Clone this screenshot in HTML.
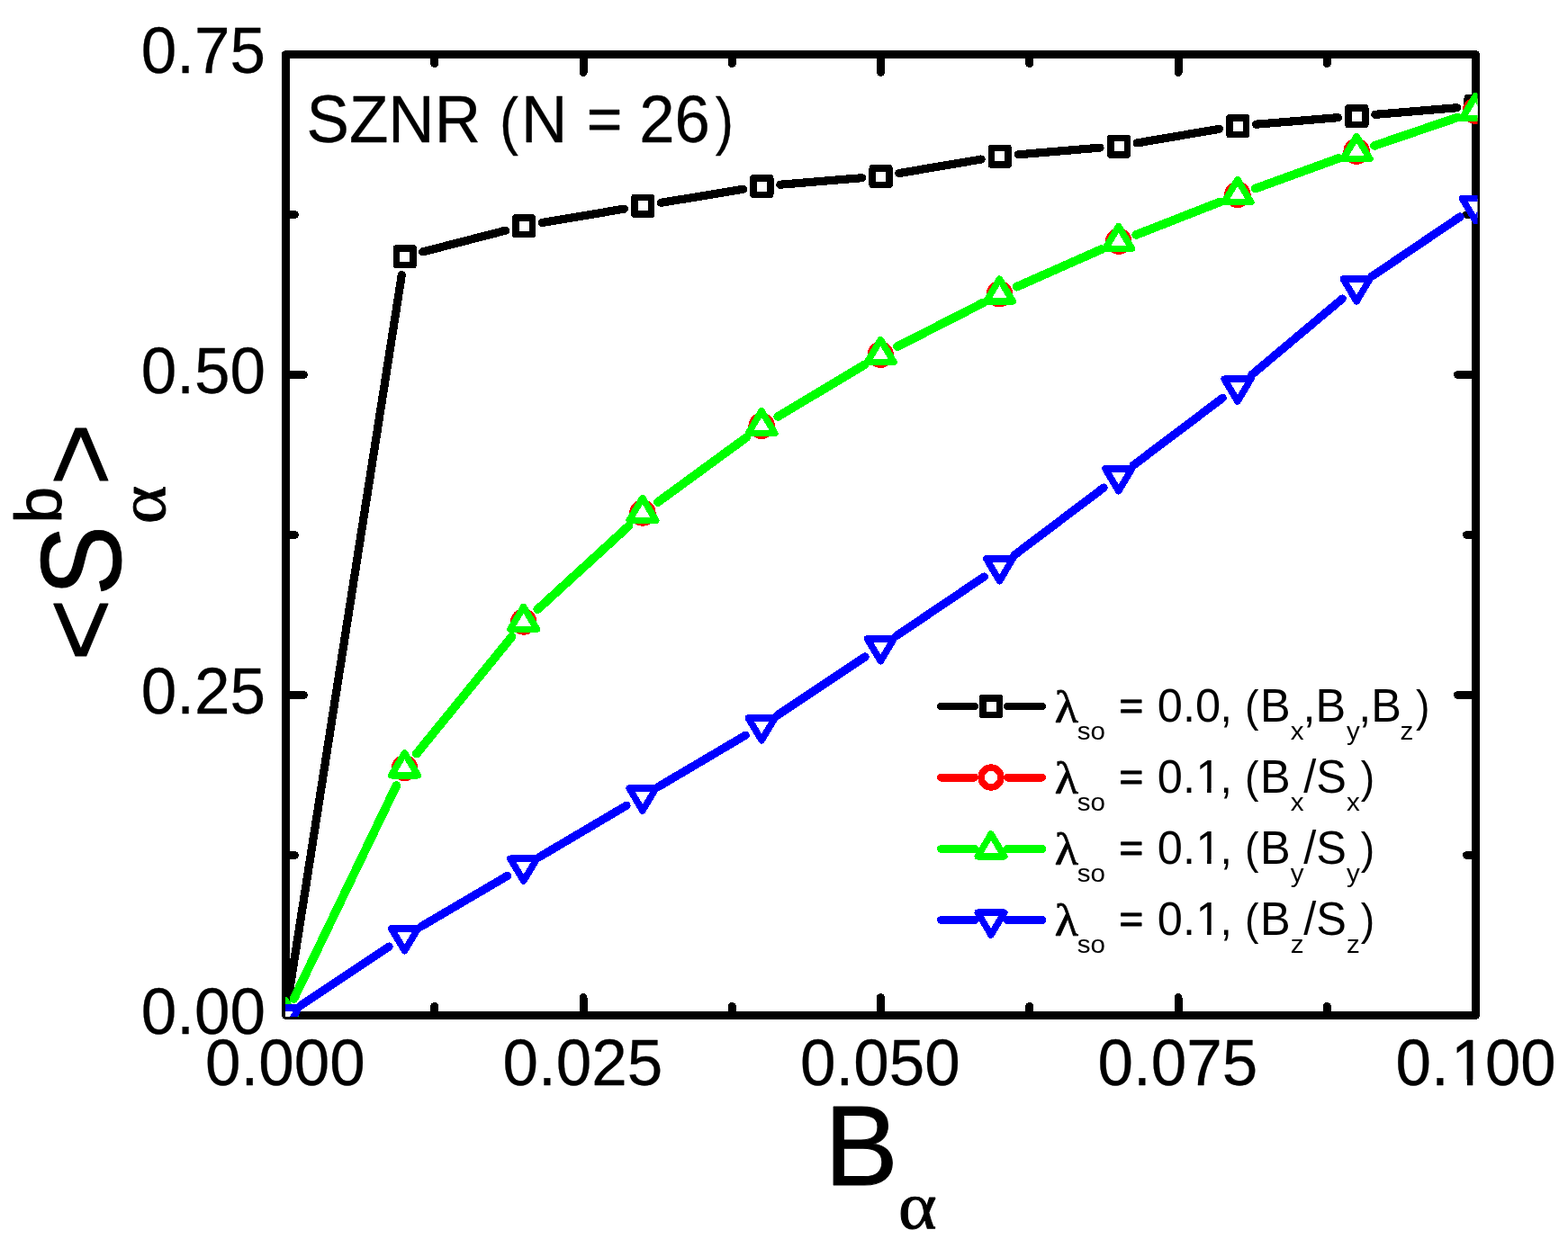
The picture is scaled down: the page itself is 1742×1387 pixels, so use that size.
<!DOCTYPE html>
<html lang="en"><head><meta charset="utf-8"><title>SZNR (N = 26)</title>
<style>
html,body{margin:0;padding:0;background:#fff}
body{width:1742px;height:1387px;overflow:hidden}
svg{display:block}
</style></head>
<body>
<svg width="1742" height="1387" viewBox="0 0 1742 1387" shape-rendering="crispEdges">
<defs>
<rect id="mq" x="-9.3" y="-9.3" width="18.6" height="18.6" fill="#fff" stroke="#000" stroke-width="7.6" stroke-linejoin="round"/>
<circle id="mc" r="10.9" fill="#fff" stroke-width="7.6"/>
<path id="mu" d="M0 -16.53 L14.8 8.27 L-14.8 8.27 Z" fill="#fff" stroke-width="7.5" stroke-linejoin="round"/>
<path id="md" d="M0 16.53 L14.8 -8.27 L-14.8 -8.27 Z" fill="#fff" stroke-width="7.5" stroke-linejoin="round"/>
<clipPath id="cp"><rect x="317" y="56" width="1324.5" height="1074"/></clipPath>
</defs>
<rect width="1742" height="1387" fill="#fff"/>
<g id="axes" stroke="#000" fill="none">
<rect x="317.5" y="60.5" width="1322" height="1068" stroke-width="9" stroke-linejoin="round"/>
<path d="M482.75 1128.5v-10M482.75 60.5v10M648 1128.5v-20M648 60.5v20M813.25 1128.5v-10M813.25 60.5v10M978.5 1128.5v-20M978.5 60.5v20M1143.75 1128.5v-10M1143.75 60.5v10M1309 1128.5v-20M1309 60.5v20M1474.25 1128.5v-10M1474.25 60.5v10M317.5 950.5h10M1639.5 950.5h-10M317.5 772.5h20M1639.5 772.5h-20M317.5 594.5h10M1639.5 594.5h-10M317.5 416.5h20M1639.5 416.5h-20M317.5 238.5h10M1639.5 238.5h-10" stroke-width="9" stroke-linecap="round"/>
</g>
<g id="data" clip-path="url(#cp)">
<path d="M320.52 1107.95L446.28 305.65M469.64 279.9L561.56 256.2M602.21 247.54L693.39 232.16M734.42 225.32L825.58 210.28M866.83 205.19L957.57 197.71M998.81 192.53L1089.99 177.07M1131.23 171.84L1221.97 164.16M1263.21 158.91L1354.39 143.39M1395.63 138.19L1486.37 130.71M1527.83 127.28L1618.57 119.72" fill="none" stroke="#000" stroke-width="9.2" stroke-linecap="round"/>
<use href="#mq" x="317.6" y="1128.7"/>
<use href="#mq" x="449.8" y="285.3"/>
<use href="#mq" x="582" y="251.2"/>
<use href="#mq" x="714.2" y="228.9"/>
<use href="#mq" x="846.4" y="207.1"/>
<use href="#mq" x="978.6" y="196.2"/>
<use href="#mq" x="1110.8" y="173.8"/>
<use href="#mq" x="1243" y="162.6"/>
<use href="#mq" x="1375.2" y="140.1"/>
<use href="#mq" x="1507.4" y="129.2"/>
<use href="#mq" x="1639.6" y="118.2"/>
<path d="M326.27 1110.34L440.53 872.66M462.56 837.94L568.64 707.56M596.97 677.52L698.63 584.48M730.61 558.28L829.39 486.02M863.86 463.17L960.54 405.33M996.74 385.29L1092.06 336.61M1129.42 318.81L1223.78 276.99M1261.97 261.05L1355.63 224.35M1394.35 209.72L1487.65 175.78M1526.69 162.02L1619.71 130.28" fill="none" stroke="#f00" stroke-width="9" stroke-linecap="round"/>
<use href="#mc" x="317.3" y="1128.5" stroke="#f00"/>
<use href="#mc" x="449.5" y="853.5" stroke="#f00"/>
<use href="#mc" x="581.7" y="691" stroke="#f00"/>
<use href="#mc" x="713.9" y="570" stroke="#f00"/>
<use href="#mc" x="846.1" y="473.3" stroke="#f00"/>
<use href="#mc" x="978.3" y="394.2" stroke="#f00"/>
<use href="#mc" x="1110.5" y="326.7" stroke="#f00"/>
<use href="#mc" x="1242.7" y="268.1" stroke="#f00"/>
<use href="#mc" x="1374.9" y="216.3" stroke="#f00"/>
<use href="#mc" x="1507.1" y="168.2" stroke="#f00"/>
<use href="#mc" x="1639.3" y="123.1" stroke="#f00"/>
<path d="M326.42 1110.03L440.38 872.97M462.78 837.67L568.42 707.83M597.23 677.29L698.37 584.71M730.89 558.07L829.11 486.23M864.16 462.99L960.24 405.51M997.05 385.13L1091.75 336.77M1129.74 318.67L1223.46 277.13M1262.3 260.92L1355.3 224.48M1394.68 209.6L1487.32 175.9M1527.02 161.9L1619.38 130.4" fill="none" stroke="#0f0" stroke-width="9.7" stroke-linecap="round"/>
<use href="#mu" x="317.3" y="1128.5" stroke="#0f0"/>
<use href="#mu" x="449.5" y="853.5" stroke="#0f0"/>
<use href="#mu" x="581.7" y="691" stroke="#0f0"/>
<use href="#mu" x="713.9" y="570" stroke="#0f0"/>
<use href="#mu" x="846.1" y="473.3" stroke="#0f0"/>
<use href="#mu" x="978.3" y="394.2" stroke="#0f0"/>
<use href="#mu" x="1110.5" y="326.7" stroke="#0f0"/>
<use href="#mu" x="1242.7" y="268.1" stroke="#0f0"/>
<use href="#mu" x="1374.9" y="216.3" stroke="#0f0"/>
<use href="#mu" x="1507.1" y="168.2" stroke="#0f0"/>
<use href="#mu" x="1639.3" y="123.1" stroke="#0f0"/>
<path d="M334.6 1117.25L432.2 1052.05M467.43 1029.96L563.77 973.34M599.61 952.22L695.99 895.28M731.81 874.12L828.19 817.18M863.41 795.07L960.99 730.03M995.55 706.88L1093.25 641.02M1127.09 616.86L1226.11 542.04M1259.31 516.98L1358.29 442.32M1390.82 416.42L1491.18 332.08M1524.33 307.05L1622.07 240.95" fill="none" stroke="#00f" stroke-width="9.2" stroke-linecap="round"/>
<use href="#md" x="317.3" y="1128.5" stroke="#00f"/>
<use href="#md" x="449.5" y="1040.2" stroke="#00f"/>
<use href="#md" x="581.7" y="962.5" stroke="#00f"/>
<use href="#md" x="713.9" y="884.4" stroke="#00f"/>
<use href="#md" x="846.1" y="806.3" stroke="#00f"/>
<use href="#md" x="978.3" y="718.2" stroke="#00f"/>
<use href="#md" x="1110.5" y="629.1" stroke="#00f"/>
<use href="#md" x="1242.7" y="529.2" stroke="#00f"/>
<use href="#md" x="1374.9" y="429.5" stroke="#00f"/>
<use href="#md" x="1507.1" y="318.4" stroke="#00f"/>
<use href="#md" x="1639.3" y="229" stroke="#00f"/>
</g>
<g id="ticklabels" font-family="'Liberation Sans', Arial, sans-serif" fill="#000" stroke="#000" stroke-width="0.3" stroke-linejoin="round">
<text transform="translate(295,81.1) scale(0.995,1.022)" font-size="71.4" text-anchor="end">0.75</text>
<text transform="translate(295,437.1) scale(0.995,1.022)" font-size="71.4" text-anchor="end">0.50</text>
<text transform="translate(295,793.1) scale(0.995,1.022)" font-size="71.4" text-anchor="end">0.25</text>
<text transform="translate(295,1149.1) scale(0.995,1.022)" font-size="71.4" text-anchor="end">0.00</text>
<text transform="translate(317,1206.1) scale(0.995,1.022)" font-size="71.4" text-anchor="middle">0.000</text>
<text transform="translate(647.5,1206.1) scale(0.995,1.022)" font-size="71.4" text-anchor="middle">0.025</text>
<text transform="translate(978,1206.1) scale(0.995,1.022)" font-size="71.4" text-anchor="middle">0.050</text>
<text transform="translate(1308.5,1206.1) scale(0.995,1.022)" font-size="71.4" text-anchor="middle">0.075</text>
<g><text transform="translate(1550.5,1206.1) scale(0.995,1.022)" font-size="71.4">0.</text><text transform="translate(1612.1,1206.1) scale(0.995,1.022)" font-size="71.4">1</text><rect x="1616.31" y="1199.85" width="13.6" height="8.15" fill="#fff" stroke="none" shape-rendering="geometricPrecision"/><rect x="1636.29" y="1199.85" width="13.05" height="8.15" fill="#fff" stroke="none" shape-rendering="geometricPrecision"/><text transform="translate(1649.9,1206.1) scale(0.99,1.022)" font-size="71.4">00</text></g>
<g><text transform="translate(340.6,158) scale(0.995,1.025)" font-size="71.4">SZNR </text><text transform="translate(555,158) scale(0.88,0.975)" font-size="71.4">(</text><text transform="translate(579,158) scale(0.995,1.025)" font-size="71.4">N </text><text transform="translate(652,155.2) scale(0.94,0.935)" font-size="71.4" stroke-width="0.9">= </text><text transform="translate(710.3,158) scale(0.99,1.025)" font-size="71.4">26</text><text transform="translate(794.7,158) scale(0.85,0.975)" font-size="71.4">)</text></g>
</g>
<g id="xtitle" fill="#000" stroke="#000" stroke-width="0.9" stroke-linejoin="round"><text transform="translate(916,1317) scale(1,1.03)" font-size="122.7" font-family="'Liberation Sans', Arial, sans-serif">B</text><text transform="translate(998,1364.5) scale(1.1,1)" font-size="74" font-family="'Liberation Serif', 'Times New Roman', serif">α</text></g>
<g id="ytitle" fill="#000" stroke="#000" stroke-width="0.9" stroke-linejoin="round" transform="translate(134,0) rotate(-90)"><text transform="translate(-735,-4.8) scale(1,0.99)" font-size="119.5" font-family="'Liberation Sans', Arial, sans-serif">&lt;</text><text transform="translate(-662.3,0) scale(0.957,1.025)" font-size="122.7" font-family="'Liberation Sans', Arial, sans-serif">S</text><text transform="translate(-581.8,-66.3) scale(1,0.985)" font-size="73.5" font-family="'Liberation Sans', Arial, sans-serif">b</text><text transform="translate(-582.2,49) scale(1.1,1)" font-size="74" font-family="'Liberation Serif', 'Times New Roman', serif">α</text><text transform="translate(-540,-4.8) scale(1,0.99)" font-size="119.5" font-family="'Liberation Sans', Arial, sans-serif">&gt;</text></g>
<g id="legend">
<path d="M1045.2 785H1083.1M1119.1 785H1158" stroke="#000" stroke-width="8.4" stroke-linecap="round" fill="none"/>
<use href="#mq" x="1101" y="785" stroke="#000"/>
<g font-family="'Liberation Sans', Arial, sans-serif" fill="#000" stroke-linejoin="round"><text transform="translate(1171.8,803) scale(1.06,0.975)" font-size="51" font-family="'Liberation Serif', 'Times New Roman', serif" stroke="#000" stroke-width="0.8">λ</text><text transform="translate(1196.8,822.2) scale(1,0.93)" font-size="29.6">so </text><text transform="translate(1243.2,799.4) scale(0.92,0.885)" font-size="50.5" stroke="#000" stroke-width="0.9">= </text><text transform="translate(1285.8,802) scale(1,1.015)" font-size="50.5">0.</text><text transform="translate(1328,802) scale(1,1.015)" font-size="50.5">0</text><text transform="translate(1355.6,802) scale(0.95,1.015)" font-size="50.5">, </text><text transform="translate(1382.9,802) scale(0.92,0.985)" font-size="50.5">(</text><text transform="translate(1399.9,802) scale(1,1.035)" font-size="50.5">B</text><text transform="translate(1433.8,822.2) scale(1,0.93)" font-size="29.6">x</text><text transform="translate(1447.4,802) scale(1,1.035)" font-size="50.5">,B</text><text transform="translate(1496.1,822.2) scale(1,0.93)" font-size="29.6">y</text><text transform="translate(1509.3,802) scale(1,1.035)" font-size="50.5">,B</text><text transform="translate(1555.6,822.2) scale(1,0.93)" font-size="29.6">z</text><text transform="translate(1572.9,802) scale(0.92,0.985)" font-size="50.5">)</text></g>
<path d="M1045.5 864H1082.8M1119.4 864H1157.7" stroke="#f00" stroke-width="9" stroke-linecap="round" fill="none"/>
<use href="#mc" x="1101" y="864" stroke="#f00"/>
<g font-family="'Liberation Sans', Arial, sans-serif" fill="#000" stroke-linejoin="round"><text transform="translate(1171.8,881.9) scale(1.06,0.975)" font-size="51" font-family="'Liberation Serif', 'Times New Roman', serif" stroke="#000" stroke-width="0.8">λ</text><text transform="translate(1196.8,901.1) scale(1,0.93)" font-size="29.6">so </text><text transform="translate(1243.2,878.3) scale(0.92,0.885)" font-size="50.5" stroke="#000" stroke-width="0.9">= </text><text transform="translate(1285.8,880.9) scale(1,1.015)" font-size="50.5">0.</text><text transform="translate(1328.4,880.9) scale(1,1.015)" font-size="50.5">1</text><rect x="1331.05" y="876.47" width="10" height="6.53" fill="#fff" stroke="none" shape-rendering="geometricPrecision"/><rect x="1345.61" y="876.47" width="9.61" height="6.53" fill="#fff" stroke="none" shape-rendering="geometricPrecision"/><text transform="translate(1355.6,880.9) scale(0.95,1.015)" font-size="50.5">, </text><text transform="translate(1382.9,880.9) scale(0.92,0.985)" font-size="50.5">(</text><text transform="translate(1399.9,880.9) scale(1,1.035)" font-size="50.5">B</text><text transform="translate(1433.8,901.1) scale(1,0.93)" font-size="29.6">x</text><text transform="translate(1448.2,880.9) scale(1,1.035)" font-size="50.5">/S</text><text transform="translate(1495.9,901.1) scale(1,0.93)" font-size="29.6">x</text><text transform="translate(1511.8,880.9) scale(0.92,0.985)" font-size="50.5">)</text></g>
<path d="M1045.5 943.5H1082.8M1119.4 943.5H1157.7" stroke="#0f0" stroke-width="9" stroke-linecap="round" fill="none"/>
<use href="#mu" x="1101" y="943.5" stroke="#0f0"/>
<g font-family="'Liberation Sans', Arial, sans-serif" fill="#000" stroke-linejoin="round"><text transform="translate(1171.8,960.8) scale(1.06,0.975)" font-size="51" font-family="'Liberation Serif', 'Times New Roman', serif" stroke="#000" stroke-width="0.8">λ</text><text transform="translate(1196.8,980) scale(1,0.93)" font-size="29.6">so </text><text transform="translate(1243.2,957.2) scale(0.92,0.885)" font-size="50.5" stroke="#000" stroke-width="0.9">= </text><text transform="translate(1285.8,959.8) scale(1,1.015)" font-size="50.5">0.</text><text transform="translate(1328.4,959.8) scale(1,1.015)" font-size="50.5">1</text><rect x="1331.05" y="955.47" width="10" height="6.53" fill="#fff" stroke="none" shape-rendering="geometricPrecision"/><rect x="1345.61" y="955.47" width="9.61" height="6.53" fill="#fff" stroke="none" shape-rendering="geometricPrecision"/><text transform="translate(1355.6,959.8) scale(0.95,1.015)" font-size="50.5">, </text><text transform="translate(1382.9,959.8) scale(0.92,0.985)" font-size="50.5">(</text><text transform="translate(1399.9,959.8) scale(1,1.035)" font-size="50.5">B</text><text transform="translate(1433.8,980) scale(1,0.93)" font-size="29.6">y</text><text transform="translate(1448.2,959.8) scale(1,1.035)" font-size="50.5">/S</text><text transform="translate(1495.9,980) scale(1,0.93)" font-size="29.6">y</text><text transform="translate(1511.8,959.8) scale(0.92,0.985)" font-size="50.5">)</text></g>
<path d="M1045.5 1022.5H1082.8M1119.4 1022.5H1157.7" stroke="#00f" stroke-width="9" stroke-linecap="round" fill="none"/>
<use href="#md" x="1101" y="1022.5" stroke="#00f"/>
<g font-family="'Liberation Sans', Arial, sans-serif" fill="#000" stroke-linejoin="round"><text transform="translate(1171.8,1039.7) scale(1.06,0.975)" font-size="51" font-family="'Liberation Serif', 'Times New Roman', serif" stroke="#000" stroke-width="0.8">λ</text><text transform="translate(1196.8,1058.9) scale(1,0.93)" font-size="29.6">so </text><text transform="translate(1243.2,1036.1) scale(0.92,0.885)" font-size="50.5" stroke="#000" stroke-width="0.9">= </text><text transform="translate(1285.8,1038.7) scale(1,1.015)" font-size="50.5">0.</text><text transform="translate(1328.4,1038.7) scale(1,1.015)" font-size="50.5">1</text><rect x="1331.05" y="1034.47" width="10" height="6.53" fill="#fff" stroke="none" shape-rendering="geometricPrecision"/><rect x="1345.61" y="1034.47" width="9.61" height="6.53" fill="#fff" stroke="none" shape-rendering="geometricPrecision"/><text transform="translate(1355.6,1038.7) scale(0.95,1.015)" font-size="50.5">, </text><text transform="translate(1382.9,1038.7) scale(0.92,0.985)" font-size="50.5">(</text><text transform="translate(1399.9,1038.7) scale(1,1.035)" font-size="50.5">B</text><text transform="translate(1433.8,1058.9) scale(1,0.93)" font-size="29.6">z</text><text transform="translate(1448.2,1038.7) scale(1,1.035)" font-size="50.5">/S</text><text transform="translate(1495.9,1058.9) scale(1,0.93)" font-size="29.6">z</text><text transform="translate(1511.8,1038.7) scale(0.92,0.985)" font-size="50.5">)</text></g>
</g>
</svg>
</body></html>
